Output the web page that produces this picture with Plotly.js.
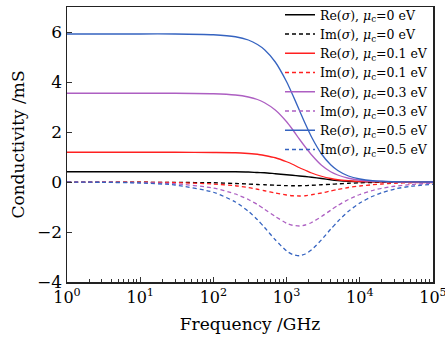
<!DOCTYPE html>
<html>
<head>
<meta charset="utf-8">
<script src="https://cdn.plot.ly/plotly-3.0.1.min.js"></script>
<style>html,body{margin:0;padding:0;background:#fff;}#chart{width:445px;height:337px;}</style>
</head>
<body>
<div id="chart"></div>
<script>
// Frequency samples (GHz)
const freq = [1, 3, 10, 30, 100, 200, 300, 400, 500, 700, 1000, 1200, 1500, 1800, 2200, 3000, 4000, 5000, 7000, 10000, 15000, 20000, 30000, 50000, 100000];

// mu_c = 0 eV
const re0 = [0.41, 0.41, 0.41, 0.41, 0.41, 0.41, 0.40, 0.38, 0.37, 0.33, 0.29, 0.27, 0.24, 0.22, 0.19, 0.14, 0.09, 0.06, 0.03, 0.015, 0.008, 0.005, 0.003, 0.001, 0.0];
const im0 = [-0.01, -0.01, -0.01, -0.015, -0.03, -0.06, -0.08, -0.10, -0.11, -0.13, -0.145, -0.15, -0.15, -0.145, -0.13, -0.11, -0.09, -0.075, -0.05, -0.035, -0.02, -0.015, -0.01, -0.005, -0.003];
// mu_c = 0.1 eV
const re1 = [1.19, 1.19, 1.19, 1.19, 1.18, 1.17, 1.14, 1.11, 1.06, 0.97, 0.81, 0.71, 0.57, 0.47, 0.36, 0.23, 0.14, 0.09, 0.05, 0.02, 0.01, 0.006, 0.003, 0.001, 0.0];
const im1 = [-0.001, -0.002, -0.008, -0.023, -0.08, -0.15, -0.22, -0.29, -0.35, -0.44, -0.52, -0.55, -0.56, -0.55, -0.51, -0.44, -0.36, -0.30, -0.22, -0.16, -0.11, -0.08, -0.05, -0.03, -0.02];
// mu_c = 0.3 eV
const re3 = [3.55, 3.55, 3.55, 3.55, 3.53, 3.48, 3.40, 3.30, 3.17, 2.88, 2.41, 2.11, 1.71, 1.40, 1.08, 0.67, 0.41, 0.28, 0.15, 0.07, 0.03, 0.02, 0.01, 0.003, 0.001];
const im3 = [-0.002, -0.007, -0.024, -0.07, -0.24, -0.48, -0.70, -0.90, -1.09, -1.38, -1.65, -1.73, -1.76, -1.72, -1.62, -1.38, -1.13, -0.94, -0.70, -0.50, -0.34, -0.25, -0.17, -0.10, -0.05];
// mu_c = 0.5 eV
const re5 = [5.92, 5.92, 5.92, 5.92, 5.89, 5.81, 5.68, 5.50, 5.29, 4.80, 4.01, 3.51, 2.86, 2.33, 1.79, 1.12, 0.69, 0.46, 0.24, 0.12, 0.05, 0.03, 0.01, 0.005, 0.001];
const im5 = [-0.004, -0.012, -0.04, -0.12, -0.41, -0.80, -1.17, -1.51, -1.82, -2.31, -2.76, -2.90, -2.95, -2.88, -2.71, -2.31, -1.89, -1.58, -1.17, -0.84, -0.57, -0.43, -0.28, -0.17, -0.09];

const names = [
  'Re(<i>σ</i>), <i>μ</i><sub>c</sub>=0 eV',
  'Im(<i>σ</i>), <i>μ</i><sub>c</sub>=0 eV',
  'Re(<i>σ</i>), <i>μ</i><sub>c</sub>=0.1 eV',
  'Im(<i>σ</i>), <i>μ</i><sub>c</sub>=0.1 eV',
  'Re(<i>σ</i>), <i>μ</i><sub>c</sub>=0.3 eV',
  'Im(<i>σ</i>), <i>μ</i><sub>c</sub>=0.3 eV',
  'Re(<i>σ</i>), <i>μ</i><sub>c</sub>=0.5 eV',
  'Im(<i>σ</i>), <i>μ</i><sub>c</sub>=0.5 eV'
];
const series = [re0, im0, re1, im1, re3, im3, re5, im5];
const colors = ['#000000', '#000000', '#ff2020', '#ff2020', '#ad5fc2', '#ad5fc2', '#3563c0', '#3563c0'];

const xTickVals = [1, 10, 100, 1000, 10000, 100000];
const xTickText = ['10<sup>0</sup>', '10<sup>1</sup>', '10<sup>2</sup>', '10<sup>3</sup>', '10<sup>4</sup>', '10<sup>5</sup>'];

const minorVals = [];
for (let d = 0; d < 5; d++) for (let k = 2; k <= 9; k++) minorVals.push(k * Math.pow(10, d));

const traces = series.map((s, i) => ({
  x: freq, y: s, name: names[i], type: 'scatter', mode: 'lines',
  line: {color: colors[i], width: 1.3, shape: 'spline', smoothing: 0.6, dash: (i % 2 === 1) ? '4px,3px' : 'solid'}
}));

const font = 'DejaVu Serif, serif';
const layout = {
  width: 445, height: 337,
  margin: {l: 67, r: 12, t: 7, b: 55, autoexpand: false},
  paper_bgcolor: '#fff', plot_bgcolor: '#fff',
  font: {family: font, color: '#000', size: 15},
  showlegend: true,
  legend: {x: 1, xanchor: 'right', y: 1.025, yanchor: 'top', bgcolor: 'rgba(0,0,0,0)',
           font: {family: font, size: 12.5, color: '#000'}, tracegroupgap: 0, itemwidth: 30},
  xaxis: {
    type: 'log', range: [0, 5], tickvals: xTickVals, ticktext: xTickText,
    ticklabeloverflow: 'allow', automargin: false,
    ticks: 'inside', ticklen: 5, tickwidth: 1, tickcolor: '#333',
    minor: {tickvals: minorVals, ticks: 'inside', ticklen: 3, tickwidth: 1, tickcolor: '#333'},
    showline: true, linecolor: '#222', linewidth: 1.5, mirror: true,
    showgrid: false, zeroline: false,
    tickfont: {family: font, size: 16},
    title: {text: 'Frequency /GHz', font: {family: font, size: 17}, standoff: 12}
  },
  yaxis: {
    range: [-4, 7], tickvals: [-4, -2, 0, 2, 4, 6], automargin: false,
    ticks: 'inside', ticklen: 5, tickwidth: 1, tickcolor: '#333',
    showline: true, linecolor: '#222', linewidth: 1.5, mirror: true,
    showgrid: false, zeroline: false,
    tickfont: {family: font, size: 17},
    title: {text: 'Conductivity /mS', font: {family: font, size: 17}, standoff: 8}
  }
};

Plotly.newPlot('chart', traces, layout, {displayModeBar: false, staticPlot: true});
</script>
</body>
</html>
